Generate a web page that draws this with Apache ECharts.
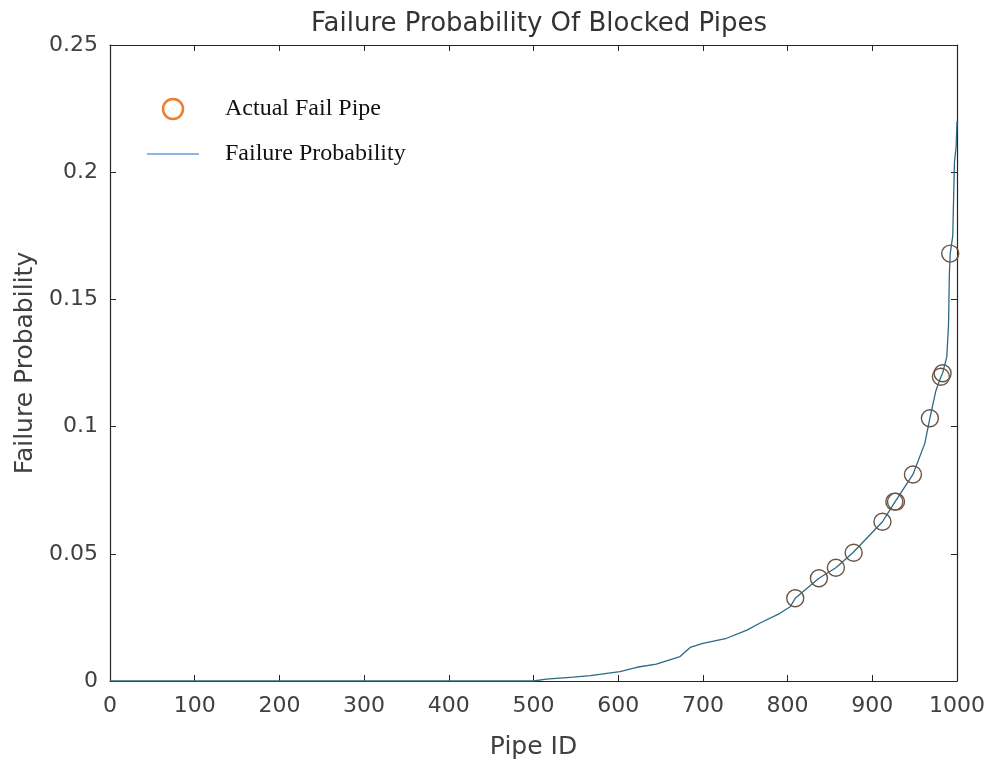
<!DOCTYPE html>
<html>
<head>
<meta charset="utf-8">
<script src="https://cdn.jsdelivr.net/npm/echarts@6/dist/echarts.min.js"></script>
<style>html,body{margin:0;padding:0;background:#fff;}#c{width:992px;height:768px;}</style>
</head>
<body>
<div id="c"></div>
<script>
// Failure probability curve (Pipe ID, probability)
var lineX = [0, 100, 200, 300, 400, 500, 515, 547, 567, 602, 622, 645, 673, 685, 700, 728, 752, 767, 791, 803, 809, 837, 857, 877, 912, 927, 948, 962, 968, 975, 981, 983, 988, 990, 991, 992, 995, 996, 997, 999, 1000];
var lineY = [0, 0, 0, 0, 0, 0, 0.0007, 0.0015, 0.0021, 0.0037, 0.0054, 0.0066, 0.0096, 0.0132, 0.0148, 0.0168, 0.020, 0.0227, 0.0266, 0.0292, 0.0325, 0.0404, 0.0445, 0.0504, 0.0626, 0.0705, 0.0812, 0.0934, 0.1033, 0.114, 0.1196, 0.121, 0.1275, 0.14, 0.16, 0.168, 0.175, 0.19, 0.204, 0.21, 0.22];
// Actual failed pipes
var failX = [809, 837, 857, 878, 912, 926, 928, 948, 968, 981, 983, 992];
var failY = [0.0325, 0.0404, 0.0445, 0.0504, 0.0626, 0.0705, 0.0705, 0.0812, 0.1033, 0.1196, 0.121, 0.168];

var axisCol = '#262626';
var labCol = '#404040';
var sans = 'DejaVu Sans';

var chart = echarts.init(document.getElementById('c'));
var lineData = lineX.map(function (x, i) { return [x, lineY[i]]; });
var failData = failX.map(function (x, i) { return [x, failY[i]]; });

chart.setOption({
  backgroundColor: '#fff',
  animation: false,
  title: {
    text: 'Failure Probability Of Blocked Pipes',
    left: 534, top: 6, textAlign: 'center',
    textStyle: { fontFamily: sans, fontSize: 26, fontWeight: 'normal', color: '#333' }
  },
  legend: {
    orient: 'vertical', left: 142, top: 92, itemGap: 21,
    itemWidth: 52, itemHeight: 20,
    textStyle: { fontFamily: 'Liberation Serif', fontSize: 24, color: '#111', padding: [6, 0, 0, 21] },
    data: [
      { name: 'Actual Fail Pipe', icon: 'circle', itemStyle: { color: 'rgba(0,0,0,0)', borderColor: '#ED7D31', borderWidth: 2.5 } },
      { name: 'Failure Probability', icon: 'path://M0,0 L52,0 L52,2 L0,2 Z', itemStyle: { color: '#8db4e2' } }
    ]
  },
  grid: { left: 110, right: 35, top: 45, bottom: 87, containLabel: false },
  xAxis: [{
    type: 'value', min: 0, max: 1000, interval: 100,
    name: 'Pipe ID', nameLocation: 'middle', nameGap: 54,
    nameTextStyle: { fontFamily: sans, fontSize: 25, color: labCol },
    axisLine: { onZero: false, lineStyle: { color: axisCol, width: 1.2 } },
    axisTick: { inside: true, length: 6, lineStyle: { color: axisCol } },
    axisLabel: { fontFamily: sans, fontSize: 22, color: labCol, margin: 14, formatter: function (v) { return String(v); } },
    splitLine: { show: false }
  }, {
    type: 'value', position: 'top', min: 0, max: 1000, interval: 100,
    axisLine: { show: true, onZero: false, lineStyle: { color: axisCol, width: 1.2 } },
    axisTick: { inside: true, length: 6, lineStyle: { color: axisCol } },
    axisLabel: { show: false }, splitLine: { show: false }
  }],
  yAxis: [{
    type: 'value', min: 0, max: 0.25, interval: 0.05,
    name: 'Failure Probability', nameLocation: 'middle', nameGap: 70, nameRotate: 90,
    nameTextStyle: { fontFamily: sans, fontSize: 25, color: labCol },
    axisLine: { show: true, onZero: false, lineStyle: { color: axisCol, width: 1.2 } },
    axisTick: { inside: true, length: 6, lineStyle: { color: axisCol } },
    axisLabel: { fontFamily: sans, fontSize: 22, color: labCol, margin: 12 },
    splitLine: { show: false }
  }, {
    type: 'value', position: 'right', min: 0, max: 0.25, interval: 0.05,
    axisLine: { show: true, onZero: false, lineStyle: { color: axisCol, width: 1.2 } },
    axisTick: { inside: true, length: 6, lineStyle: { color: axisCol } },
    axisLabel: { show: false }, splitLine: { show: false }
  }],
  series: [{
    name: 'Failure Probability', type: 'line', data: lineData,
    showSymbol: false, symbol: 'none',
    lineStyle: { color: '#2b6a86', width: 1.3 },
    itemStyle: { color: '#2b6a86' },
    z: 3
  }, {
    name: 'Actual Fail Pipe', type: 'scatter', data: failData,
    symbol: 'circle', symbolSize: 17,
    itemStyle: { color: 'rgba(0,0,0,0)', borderColor: '#6b5444', borderWidth: 1.4, opacity: 1 },
    z: 4
  }]
});
</script>
</body>
</html>
